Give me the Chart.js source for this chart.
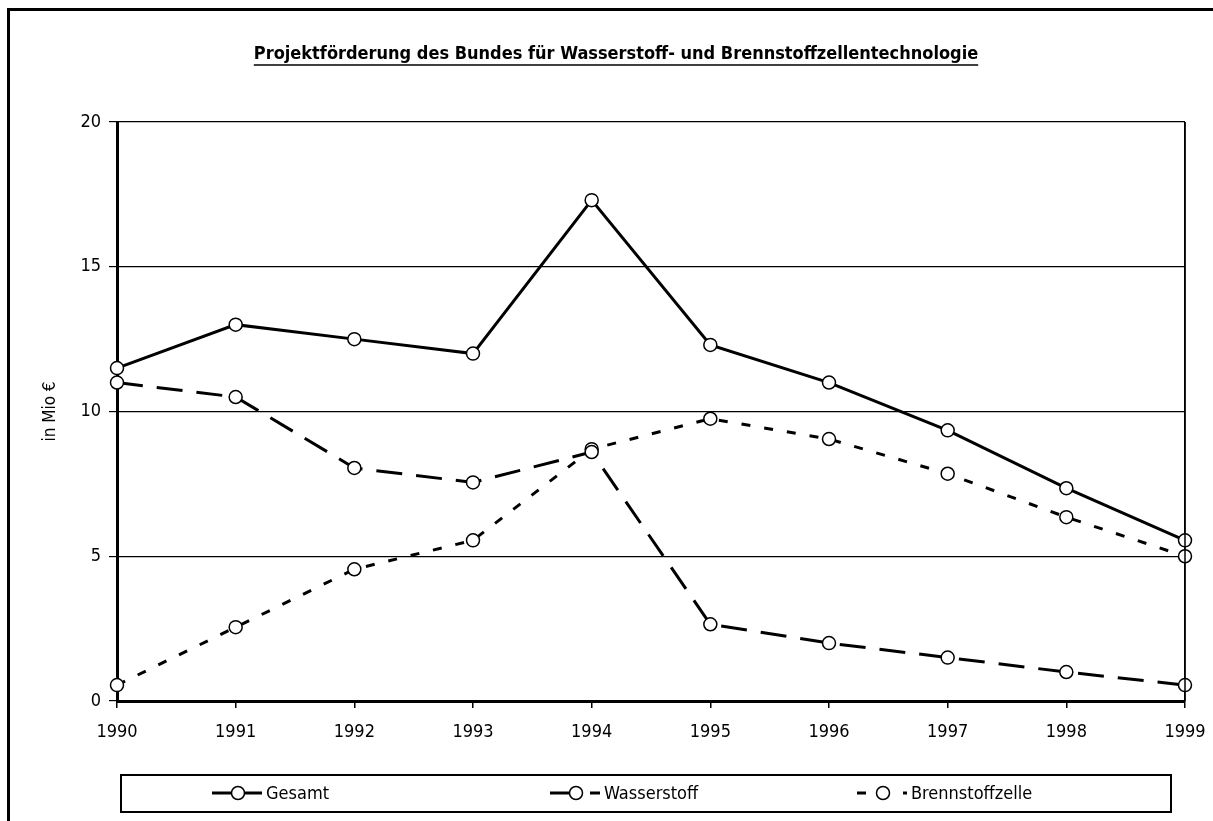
<!DOCTYPE html>
<html lang="de">
<head>
  <meta charset="UTF-8" />
  <title>Projektförderung</title>
  <script src="https://cdn.jsdelivr.net/npm/chart.js"></script>
  <style>
    body { margin: 0; background: #fff; }
    #wrap { width: 1213px; height: 821px; position: relative; }
  </style>
</head>
<body>
  <div id="wrap"><canvas id="chart"></canvas></div>
  <script>
    // data
    const years = ['1990', '1991', '1992', '1993', '1994', '1995', '1996', '1997', '1998', '1999'];
    const gesamt = [11.5, 13.0, 12.5, 12.0, 17.3, 12.3, 11.0, 9.35, 7.35, 5.55];
    const wasserstoff = [11.0, 10.5, 8.05, 7.55, 8.6, 2.65, 2.0, 1.5, 1.0, 0.55];
    const brennstoffzelle = [0.55, 2.55, 4.55, 5.55, 8.7, 9.75, 9.05, 7.85, 6.35, 5.0];
    const seriesNames = ['Gesamt', 'Wasserstoff', 'Brennstoffzelle'];
    const titleText = 'Projektförderung des Bundes für Wasserstoff- und Brennstoffzellentechnologie';

    const FONT = "'Liberation Sans Narrow', 'Arial Narrow', 'DejaVu Sans Condensed', sans-serif";
    Chart.defaults.font.family = FONT;
    Chart.defaults.color = '#000';

    function lineSet(label, data, dash) {
      return {
        label: label,
        data: data,
        borderColor: '#000',
        borderWidth: 3,
        borderDash: dash,
        tension: 0,
        pointRadius: 6.5,
        pointBackgroundColor: '#fff',
        pointBorderColor: '#000',
        pointBorderWidth: 1.5
      };
    }

    // frame, title and boxed legend drawn on the canvas
    const decor = {
      id: 'decor',
      beforeDraw(chart) {
        const c = chart.ctx;
        c.save();
        c.strokeStyle = '#000';
        c.lineWidth = 3;
        c.beginPath();
        c.moveTo(8.5, 821);
        c.lineTo(8.5, 9.5);
        c.lineTo(1213, 9.5);
        c.stroke();
        c.restore();
      },
      afterDraw(chart) {
        const c = chart.ctx;
        const area = chart.chartArea;
        c.save();
        // right border of plot area
        c.strokeStyle = '#000';
        c.lineWidth = 1.5;
        c.beginPath();
        c.moveTo(area.right, area.top);
        c.lineTo(area.right, area.bottom);
        c.stroke();

        // title with underline
        c.font = 'bold 18px ' + FONT;
        c.textAlign = 'center';
        c.textBaseline = 'middle';
        c.fillStyle = '#000';
        const tx = 616, ty = 54;
        c.fillText(titleText, tx, ty);
        const tw = c.measureText(titleText).width;
        c.lineWidth = 1.5;
        c.beginPath();
        c.moveTo(tx - tw / 2, ty + 11);
        c.lineTo(tx + tw / 2, ty + 11);
        c.stroke();

        // legend box
        c.lineWidth = 2;
        c.strokeRect(121, 775, 1050, 37);
        const cy = 793;
        const starts = [212, 550, 857];
        c.font = '18px ' + FONT;
        c.textAlign = 'left';
        chart.data.datasets.forEach((ds, i) => {
          const x0 = starts[i];
          c.save();
          c.lineWidth = ds.borderWidth;
          c.setLineDash(ds.borderDash || []);
          c.beginPath();
          c.moveTo(x0, cy);
          c.lineTo(x0 + 50, cy);
          c.stroke();
          c.restore();
          c.beginPath();
          c.arc(x0 + 26, cy, ds.pointRadius, 0, Math.PI * 2);
          c.fillStyle = '#fff';
          c.fill();
          c.lineWidth = ds.pointBorderWidth;
          c.stroke();
          c.fillStyle = '#000';
          c.fillText(ds.label, x0 + 54, cy + 1);
        });
        c.restore();
      }
    };

    new Chart(document.getElementById('chart'), {
      type: 'line',
      data: {
        labels: years,
        datasets: [
          lineSet(seriesNames[0], gesamt, []),
          lineSet(seriesNames[1], wasserstoff, [26, 14]),
          lineSet(seriesNames[2], brennstoffzelle, [9, 14])
        ]
      },
      options: {
        responsive: true,
        maintainAspectRatio: false,
        animation: false,
        layout: { padding: { left: 30, right: 28, top: 122, bottom: 75 } },
        plugins: {
          legend: { display: false },
          title: { display: false },
          tooltip: { enabled: false }
        },
        scales: {
          x: {
            type: 'category',
            offset: false,
            afterFit(scale) {
              scale.height = 45;
              scale.paddingLeft = 0;
              scale.paddingRight = 0;
            },
            grid: {
              color: ctx => ctx.index === years.length - 1 ? '#000' : 'rgba(0,0,0,0)',
              tickColor: '#000',
              tickLength: 7,
              lineWidth: 1.5
            },
            border: { color: '#000', width: 3 },
            ticks: { font: { size: 18 }, padding: 14, maxRotation: 0 }
          },
          y: {
            min: 0,
            max: 20,
            afterFit(scale) { scale.width = 87; },
            ticks: { stepSize: 5, font: { size: 18 }, padding: 8 },
            grid: { color: '#000', tickColor: '#000', tickLength: 8, lineWidth: 1.2 },
            border: { color: '#000', width: 3 },
            title: { display: true, text: 'in Mio €', font: { size: 17 }, padding: { top: 10, bottom: 0 } }
          }
        }
      },
      plugins: [decor]
    });
  </script>
</body>
</html>
